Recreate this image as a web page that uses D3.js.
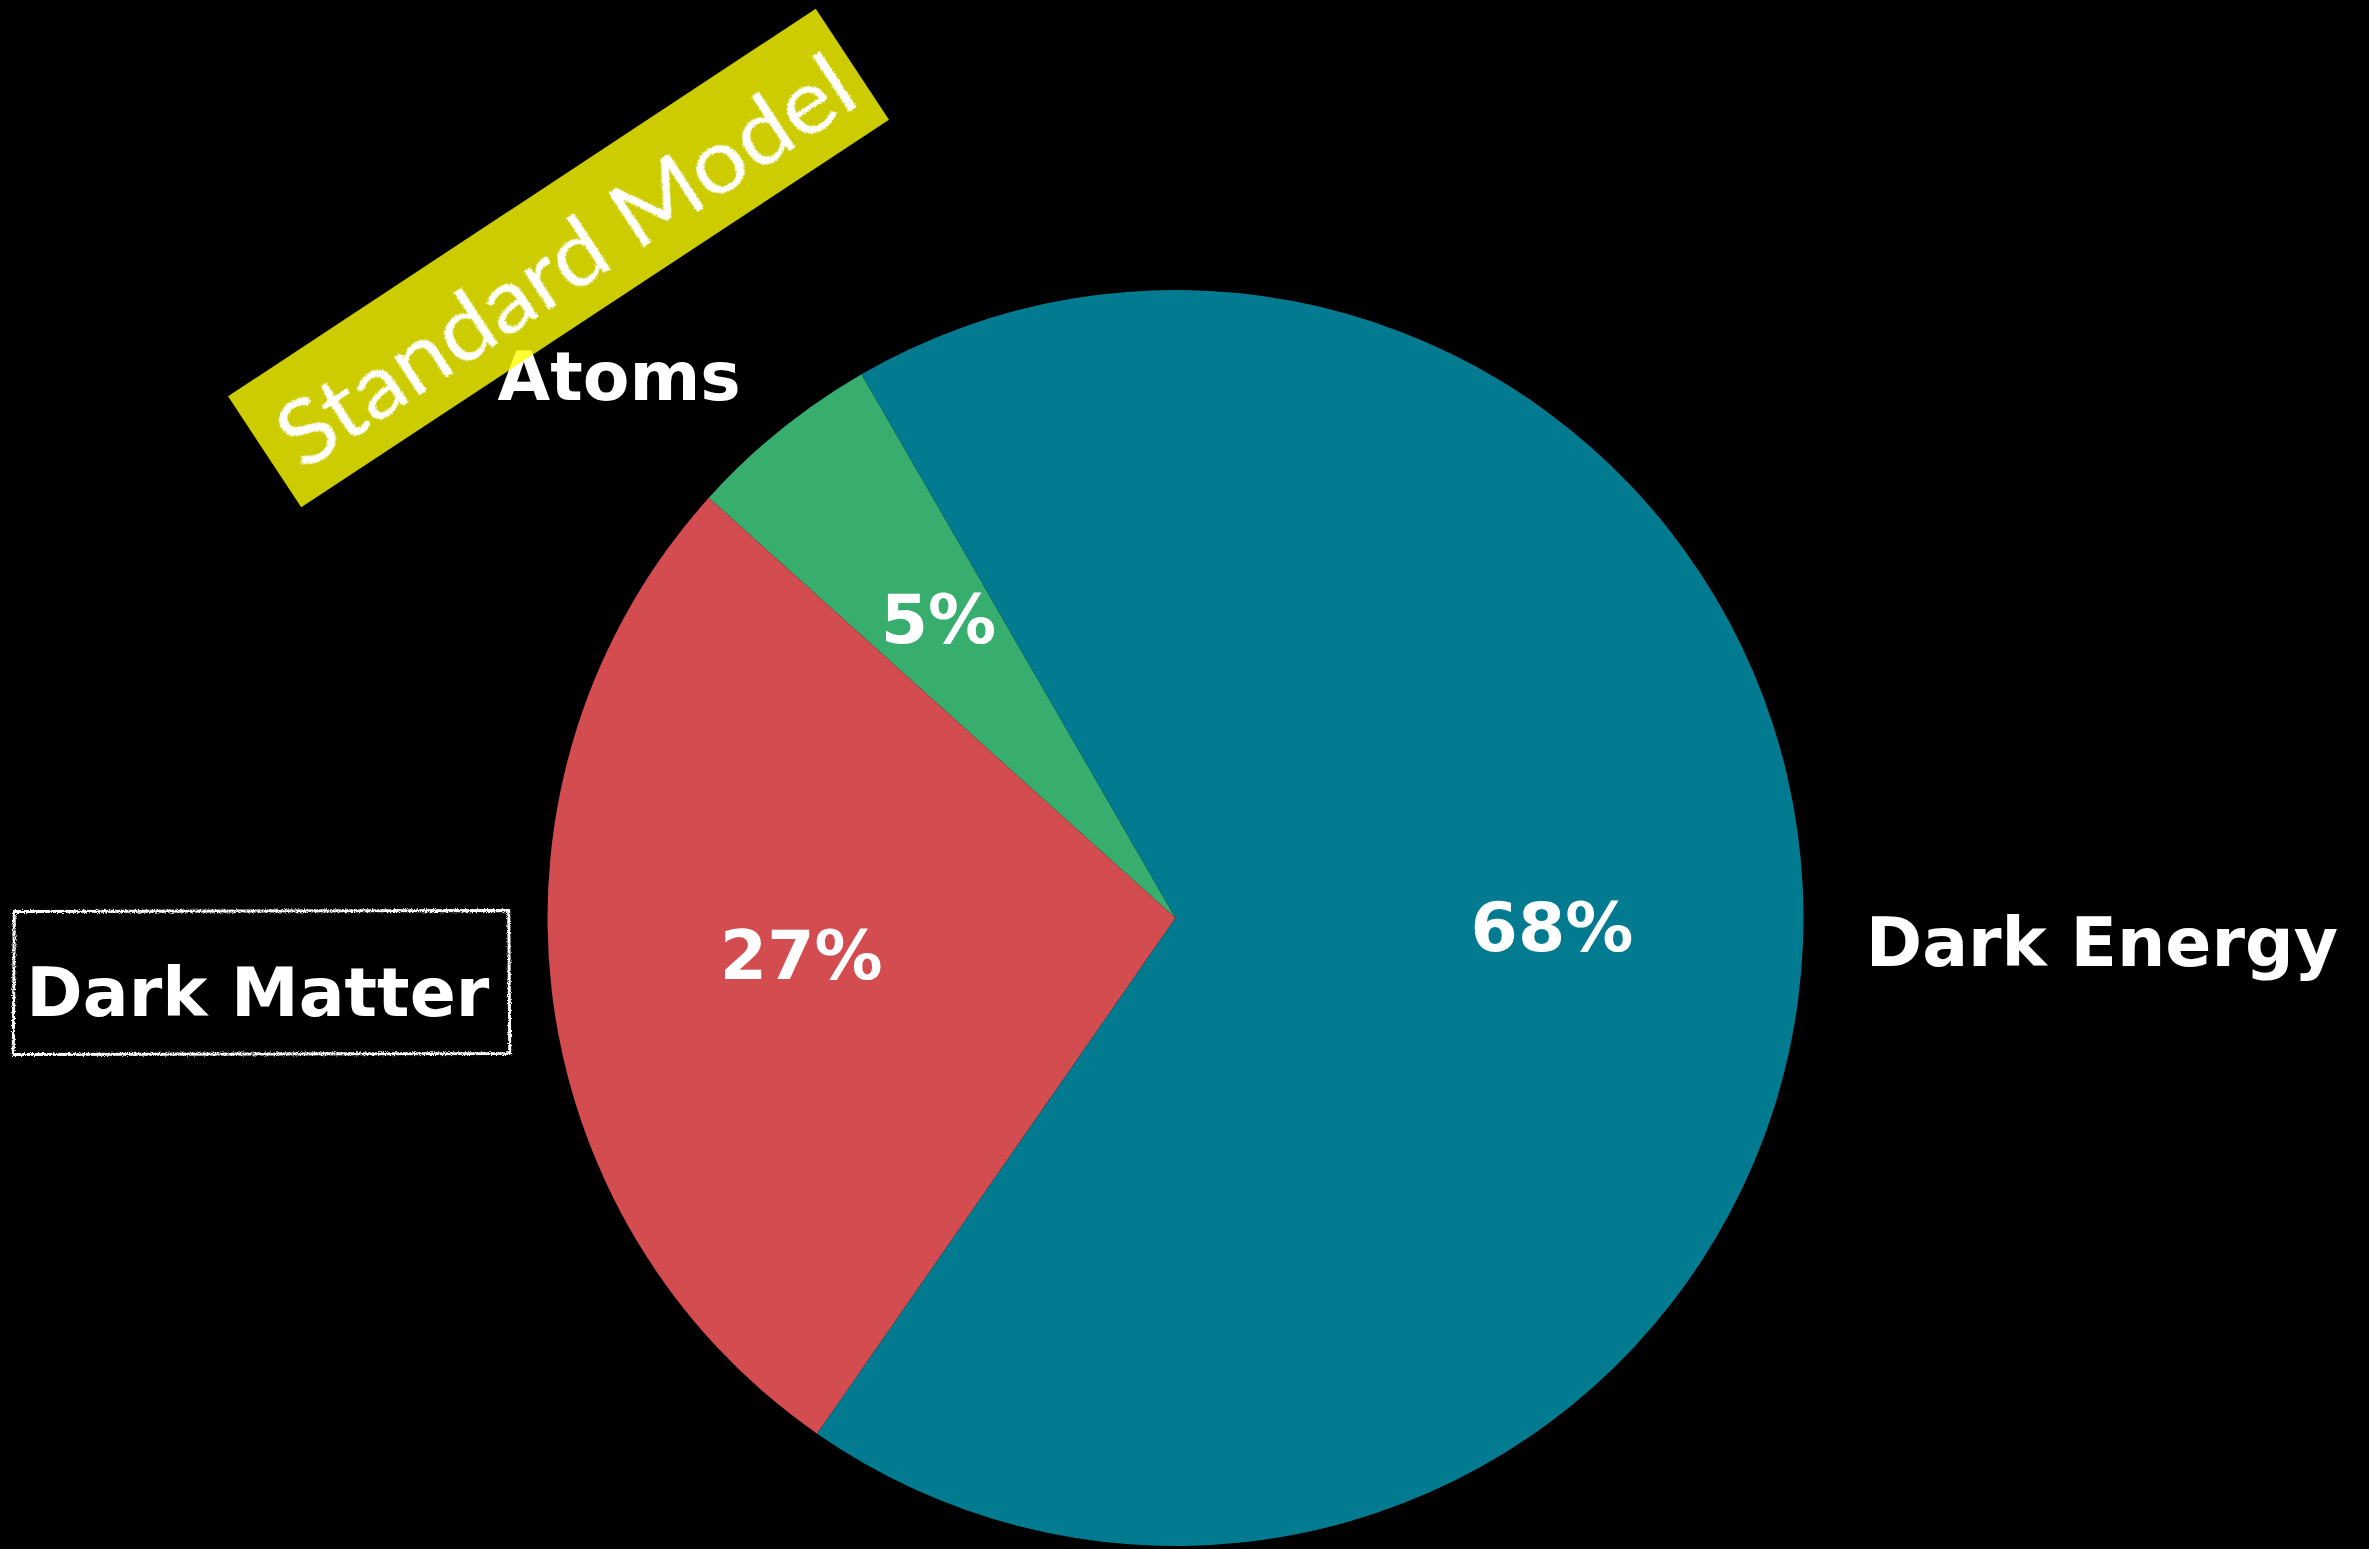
<!DOCTYPE html>
<html>
<head>
<meta charset="utf-8">
<script src="https://cdn.jsdelivr.net/npm/d3@7"></script>
<style>
  html, body { margin: 0; padding: 0; background: #000; }
  svg { display: block; }
</style>
</head>
<body>
<script>
// Composition of the universe
const labels = ["Atoms", "Dark Matter", "Dark Energy"];
const values = [5, 27, 68];
const colors = ["#37ae6e", "#d34c50", "#027b91"];
const pctLabels = ["5%", "27%", "68%"];
const annotation = "Standard Model";

const W = 2369, H = 1549;
const cx = 1175.5, cy = 918, R = 628;
const FONT = 68;

const svg = d3.select("body").append("svg")
  .attr("width", W).attr("height", H)
  .style("background", "#000");

const defs = svg.append("defs");
// rough, hand-drawn edge
const rough = defs.append("filter").attr("id", "rough")
  .attr("x", "-10%").attr("y", "-10%").attr("width", "120%").attr("height", "120%");
rough.append("feTurbulence").attr("type", "fractalNoise")
  .attr("baseFrequency", 0.9).attr("numOctaves", 2).attr("seed", 3).attr("result", "noise");
rough.append("feDisplacementMap").attr("in", "SourceGraphic").attr("in2", "noise")
  .attr("scale", 4).attr("xChannelSelector", "R").attr("yChannelSelector", "G");

svg.append("rect").attr("width", W).attr("height", H).attr("fill", "#000");

// pie starts at 120° (counter-clockwise from 3 o'clock) and runs counter-clockwise
const deg = Math.PI / 180;
const start = (90 - 120) * deg;
const pie = d3.pie().sort(null).value(d => d)
  .startAngle(start).endAngle(start - 2 * Math.PI);
const arcs = pie(values);

const g = svg.append("g").attr("transform", `translate(${cx},${cy})`);
const arc = d3.arc().innerRadius(0).outerRadius(R);

g.selectAll("path.slice").data(arcs).join("path")
  .attr("class", "slice")
  .attr("d", arc)
  .attr("fill", (d, i) => colors[i]);

const mid = d => (d.startAngle + d.endAngle) / 2;
const pt = (d, f) => [f * R * Math.sin(mid(d)), -f * R * Math.cos(mid(d))];

// percentage labels inside the slices
g.selectAll("text.pct").data(arcs).join("text")
  .attr("class", "pct")
  .attr("x", d => pt(d, 0.6)[0])
  .attr("y", d => pt(d, 0.6)[1])
  .attr("dy", "0.26em")
  .attr("text-anchor", "middle")
  .attr("font-family", "DejaVu Sans")
  .attr("font-weight", "bold")
  .attr("font-size", FONT)
  .attr("fill", "#fff")
  .text((d, i) => pctLabels[i]);

// category labels outside the pie
const outer = g.selectAll("text.lab").data(arcs).join("text")
  .attr("class", "lab")
  .attr("x", d => pt(d, 1.1)[0])
  .attr("y", d => pt(d, 1.1)[1])
  .attr("dy", "0.28em")
  .attr("text-anchor", d => pt(d, 1.1)[0] < 0 ? "end" : "start")
  .attr("font-family", "DejaVu Sans")
  .attr("font-weight", "bold")
  .attr("font-size", FONT)
  .attr("fill", "#fff")
  .text((d, i) => labels[i]);

// sketchy frame around the "Dark Matter" label
outer.each(function(d, i) {
  if (labels[i] !== "Dark Matter") return;
  const b = this.getBBox();
  const x0 = b.x - 12, x1 = b.x + b.width + 19;
  const y0 = b.y - 42, y1 = b.y + b.height + 21;
  const p = d3.path();
  p.moveTo(x0, y0); p.lineTo(x1, y0 - 1); p.lineTo(x1 + 1, y1); p.lineTo(x0 - 1, y1 + 1); p.closePath();
  g.insert("path", "text.lab")
    .attr("d", p.toString())
    .attr("fill", "#000")
    .attr("stroke", "#fff")
    .attr("stroke-width", 3)
    .attr("filter", "url(#rough)");
});

// rotated "Standard Model" tag, drawn over the labels
const tag = svg.append("g").attr("transform", "translate(558.5,258) rotate(-33.4)");
tag.append("rect")
  .attr("x", -352).attr("y", -66.5)
  .attr("width", 704).attr("height", 133)
  .attr("fill", "rgba(255,255,0,0.8)");
tag.append("text")
  .attr("x", 4).attr("y", 6)
  .attr("dy", "0.35em")
  .attr("text-anchor", "middle")
  .attr("font-family", "Lato")
  .attr("font-weight", 400)
  .attr("font-size", 92)
  .attr("textLength", 670)
  .attr("lengthAdjust", "spacingAndGlyphs")
  .attr("fill", "#fff")
  .attr("filter", "url(#rough)")
  .text(annotation);
</script>
</body>
</html>
